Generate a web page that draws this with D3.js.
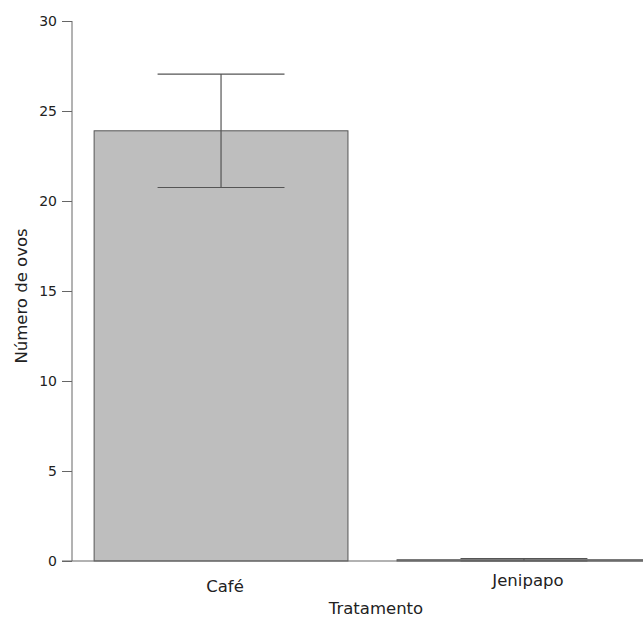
<!DOCTYPE html>
<html>
<head>
<meta charset="utf-8">
<script src="https://cdn.jsdelivr.net/npm/d3@7"></script>
<style>
  body { margin: 0; background: #fff; }
  text { font-family: "DejaVu Sans", sans-serif; fill: #222; }
</style>
</head>
<body>
<div id="chart"></div>
<script>
// data
var categories = ['Café', 'Jenipapo'];
var means = [23.9, 0.07];
var errors = [3.15, 0.07];
var yTicks = [0, 5, 10, 15, 20, 25, 30];

var width = 643, height = 617;
var svg = d3.select('#chart').append('svg')
    .attr('width', width).attr('height', height);

var y = d3.scaleLinear().domain([0, 30]).range([561, 21]);
var x = d3.scaleBand().domain(categories)
    .range([72, 673])
    .paddingInner(0.162)
    .paddingOuter(0.073);

var data = categories.map(function (c, i) {
    return { cat: c, mean: means[i], err: errors[i] };
});

// bars
svg.selectAll('rect.bar').data(data).enter().append('rect')
    .attr('class', 'bar')
    .attr('x', function (d) { return x(d.cat); })
    .attr('y', function (d) { return y(d.mean); })
    .attr('width', x.bandwidth())
    .attr('height', function (d) { return y(0) - y(d.mean); })
    .attr('fill', '#bebebe')
    .attr('stroke', '#555')
    .attr('stroke-width', 1);

// error bars
var capW = x.bandwidth() / 2;
var eb = svg.selectAll('g.err').data(data).enter().append('g').attr('class', 'err')
    .attr('stroke', '#555').attr('stroke-width', 1.2);
eb.append('line')
    .attr('x1', function (d) { return x(d.cat) + x.bandwidth() / 2; })
    .attr('x2', function (d) { return x(d.cat) + x.bandwidth() / 2; })
    .attr('y1', function (d) { return y(d.mean + d.err); })
    .attr('y2', function (d) { return y(Math.max(0, d.mean - d.err)); });
eb.selectAll('line.cap').data(function (d) {
    return [d.mean + d.err, Math.max(0, d.mean - d.err)].map(function (v) { return { cat: d.cat, v: v }; });
}).enter().append('line').attr('class', 'cap')
    .attr('x1', function (d) { return x(d.cat) + x.bandwidth() / 2 - capW / 2; })
    .attr('x2', function (d) { return x(d.cat) + x.bandwidth() / 2 + capW / 2; })
    .attr('y1', function (d) { return y(d.v); })
    .attr('y2', function (d) { return y(d.v); });

// y axis
var yAxis = svg.append('g').attr('transform', 'translate(72,0)')
    .call(d3.axisLeft(y).tickValues(yTicks).tickSize(10).tickPadding(5));
yAxis.select('.domain').attr('stroke', '#666').attr('d', 'M0,' + y(30) + 'V' + y(0));
yAxis.selectAll('.tick line').attr('stroke', '#666');
yAxis.selectAll('.tick text').style('font-size', '14px').attr('fill', '#222');

// x baseline
svg.append('line')
    .attr('x1', 62).attr('x2', width)
    .attr('y1', y(0)).attr('y2', y(0))
    .attr('stroke', '#666').attr('stroke-width', 1.2);

// x labels
var labelY = { 'Café': 592, 'Jenipapo': 586 };
svg.selectAll('text.xlab').data(categories).enter().append('text')
    .attr('class', 'xlab')
    .attr('x', function (c) { return x(c) + x.bandwidth() / 2 + 4; })
    .attr('y', function (c) { return labelY[c]; })
    .attr('text-anchor', 'middle')
    .style('font-size', '16.5px')
    .text(function (c) { return c; });

svg.append('text')
    .attr('x', 376).attr('y', 614)
    .attr('text-anchor', 'middle')
    .style('font-size', '16.5px')
    .text('Tratamento');

svg.append('text')
    .attr('transform', 'translate(27,296) rotate(-90)')
    .attr('text-anchor', 'middle')
    .style('font-size', '16.5px')
    .text('Número de ovos');
</script>
</body>
</html>
